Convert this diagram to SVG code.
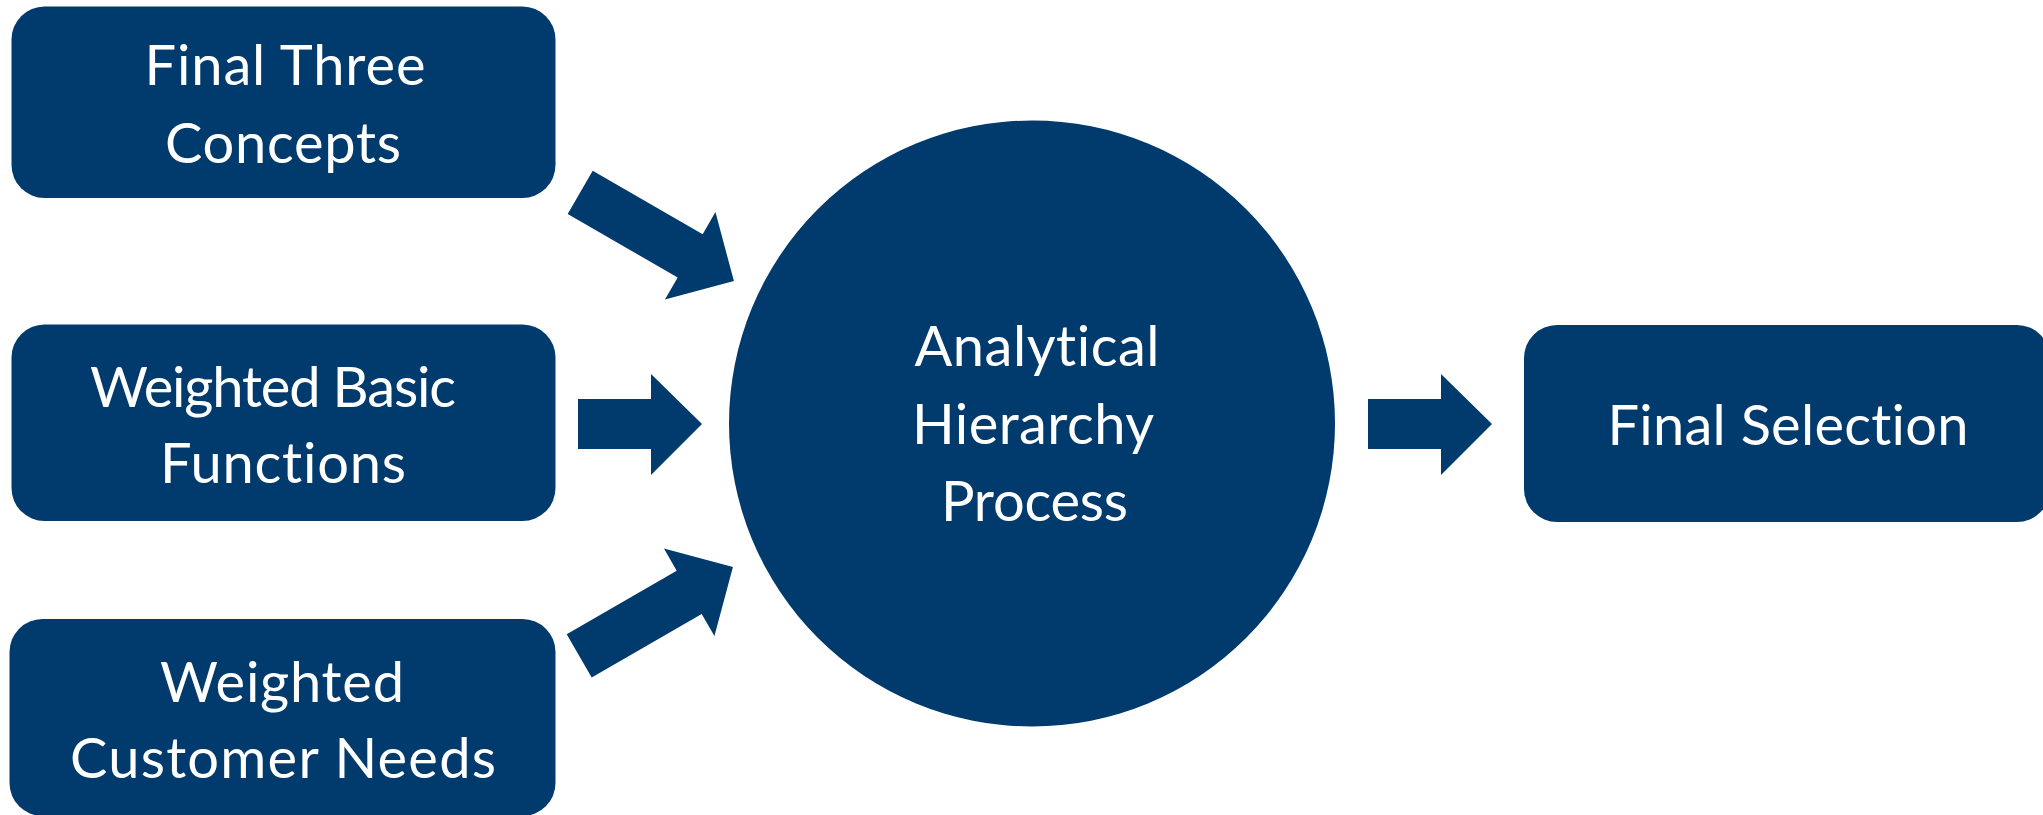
<svg xmlns="http://www.w3.org/2000/svg" width="2043" height="815" viewBox="0 0 2043 815">
  <defs>
    <style>
      .shape { fill: #013A6D; }
      .label { fill: #FFFFFF; font-family: Lato, "Open Sans", "Liberation Sans", sans-serif; font-size: 56px; text-anchor: middle; font-variant-ligatures: none; font-feature-settings: "liga" 0, "clig" 0; }
    </style>
    <!-- block arrow pointing along +x, tail centred on the origin -->
    <polygon id="longArrow" points="0,-25 127,-25 127,-50.5 177.5,0 127,50.5 127,25 0,25"/>
  </defs>
  <rect width="2043" height="815" fill="#FFFFFF"/>

  <g id="node-final-three-concepts">
    <rect class="shape" x="11.5" y="6.5" width="544" height="191.5" rx="33" ry="33"/>
    <text class="label"><tspan x="285" y="85" textLength="281" lengthAdjust="spacing">Final Three</tspan><tspan x="283" y="163" textLength="236" lengthAdjust="spacing">Concepts</tspan></text>
  </g>

  <g id="node-weighted-basic-functions">
    <rect class="shape" x="11.5" y="324.5" width="544" height="196.5" rx="33" ry="33"/>
    <text class="label"><tspan x="273" y="406.7" textLength="366" lengthAdjust="spacing">Weighted Basic</tspan><tspan x="283" y="483" textLength="246" lengthAdjust="spacing">Functions</tspan></text>
  </g>

  <g id="node-weighted-customer-needs">
    <rect class="shape" x="9.5" y="619" width="546" height="197" rx="33" ry="33"/>
    <text class="label"><tspan x="282" y="701.7" textLength="244" lengthAdjust="spacing">Weighted</tspan><tspan x="283" y="778" textLength="426" lengthAdjust="spacing">Customer Needs</tspan></text>
  </g>

  <g id="node-analytical-hierarchy-process">
    <circle class="shape" cx="1032" cy="423.5" r="303"/>
    <text class="label"><tspan x="1037" y="366" textLength="245" lengthAdjust="spacing">Analytical</tspan><tspan x="1033" y="444" textLength="242" lengthAdjust="spacing">Hierarchy</tspan><tspan x="1034.5" y="521" textLength="187" lengthAdjust="spacing">Process</tspan></text>
  </g>

  <g id="node-final-selection">
    <rect class="shape" x="1524" y="325" width="526" height="197" rx="33" ry="33"/>
    <text class="label"><tspan x="1788" y="445" textLength="361" lengthAdjust="spacing">Final Selection</tspan></text>
  </g>

  <g id="connectors" class="shape">
    <use href="#longArrow" transform="translate(580.2,192.35) rotate(30)"/>
    <polygon points="578,399 651,399 651,374 702,424 651,475 651,449 578,449"/>
    <use href="#longArrow" transform="translate(579.2,655.8) rotate(-30)"/>
    <polygon points="1368,399 1441,399 1441,374 1492,424 1441,475 1441,449 1368,449"/>
  </g>
</svg>
